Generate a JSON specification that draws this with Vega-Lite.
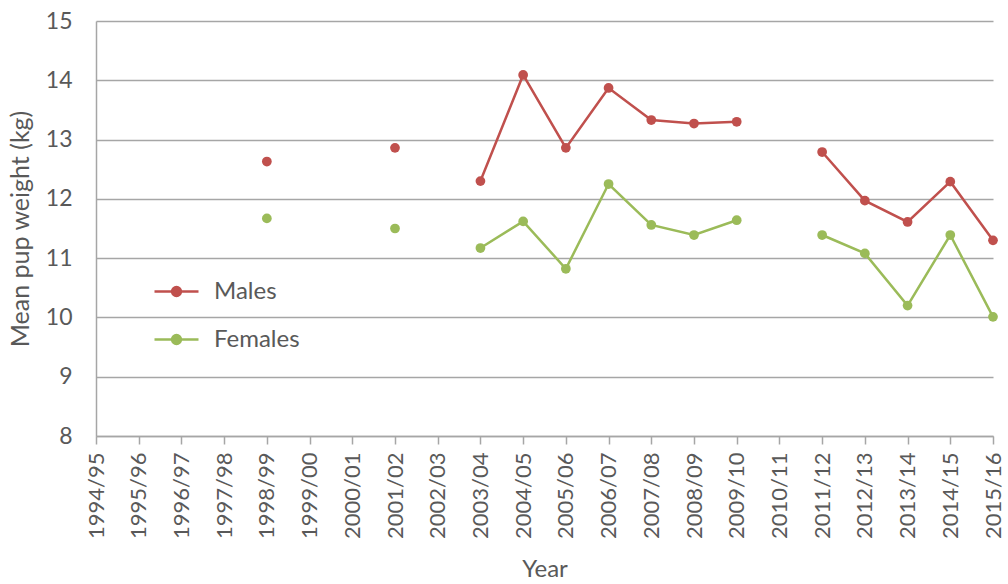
{
  "$schema": "https://vega.github.io/schema/vega-lite/v6.json",
  "autosize": "none",
  "width": 897,
  "height": 415,
  "padding": {"left": 96, "top": 21, "right": 15, "bottom": 148},
  "background": "white",
  "config": {
    "view": {"stroke": null},
    "font": "Lato",
    "axis": {"labelColor": "#595959", "titleColor": "#595959", "labelFont": "Lato", "titleFont": "Lato"}
  },
  "data": {
    "values": [
      {"year": "1994/95", "sex": "Males", "weight": null},
      {"year": "1995/96", "sex": "Males", "weight": null},
      {"year": "1996/97", "sex": "Males", "weight": null},
      {"year": "1997/98", "sex": "Males", "weight": null},
      {"year": "1998/99", "sex": "Males", "weight": 12.63},
      {"year": "1999/00", "sex": "Males", "weight": null},
      {"year": "2000/01", "sex": "Males", "weight": null},
      {"year": "2001/02", "sex": "Males", "weight": 12.86},
      {"year": "2002/03", "sex": "Males", "weight": null},
      {"year": "2003/04", "sex": "Males", "weight": 12.3},
      {"year": "2004/05", "sex": "Males", "weight": 14.09},
      {"year": "2005/06", "sex": "Males", "weight": 12.86},
      {"year": "2006/07", "sex": "Males", "weight": 13.87},
      {"year": "2007/08", "sex": "Males", "weight": 13.33},
      {"year": "2008/09", "sex": "Males", "weight": 13.27},
      {"year": "2009/10", "sex": "Males", "weight": 13.3},
      {"year": "2010/11", "sex": "Males", "weight": null},
      {"year": "2011/12", "sex": "Males", "weight": 12.79},
      {"year": "2012/13", "sex": "Males", "weight": 11.97},
      {"year": "2013/14", "sex": "Males", "weight": 11.61},
      {"year": "2014/15", "sex": "Males", "weight": 12.29},
      {"year": "2015/16", "sex": "Males", "weight": 11.3},
      {"year": "1994/95", "sex": "Females", "weight": null},
      {"year": "1995/96", "sex": "Females", "weight": null},
      {"year": "1996/97", "sex": "Females", "weight": null},
      {"year": "1997/98", "sex": "Females", "weight": null},
      {"year": "1998/99", "sex": "Females", "weight": 11.67},
      {"year": "1999/00", "sex": "Females", "weight": null},
      {"year": "2000/01", "sex": "Females", "weight": null},
      {"year": "2001/02", "sex": "Females", "weight": 11.5},
      {"year": "2002/03", "sex": "Females", "weight": null},
      {"year": "2003/04", "sex": "Females", "weight": 11.17},
      {"year": "2004/05", "sex": "Females", "weight": 11.62},
      {"year": "2005/06", "sex": "Females", "weight": 10.82},
      {"year": "2006/07", "sex": "Females", "weight": 12.25},
      {"year": "2007/08", "sex": "Females", "weight": 11.56},
      {"year": "2008/09", "sex": "Females", "weight": 11.39},
      {"year": "2009/10", "sex": "Females", "weight": 11.64},
      {"year": "2010/11", "sex": "Females", "weight": null},
      {"year": "2011/12", "sex": "Females", "weight": 11.39},
      {"year": "2012/13", "sex": "Females", "weight": 11.08},
      {"year": "2013/14", "sex": "Females", "weight": 10.2},
      {"year": "2014/15", "sex": "Females", "weight": 11.39},
      {"year": "2015/16", "sex": "Females", "weight": 10.01}
    ]
  },
  "encoding": {
    "x": {
      "field": "year", "type": "ordinal", "title": "Year",
      "scale": {"type": "point", "padding": 0, "domain": ["1994/95","1995/96","1996/97","1997/98","1998/99","1999/00","2000/01","2001/02","2002/03","2003/04","2004/05","2005/06","2006/07","2007/08","2008/09","2009/10","2010/11","2011/12","2012/13","2013/14","2014/15","2015/16"]},
      "axis": {
        "labelAngle": -90, "labelFontSize": 22, "labelPadding": 8,
        "tickSize": 8, "tickColor": "#A6A6A6", "domainColor": "#A6A6A6", "domainWidth": 1.5, "tickWidth": 1.5,
        "grid": false, "titleFontSize": 24, "titleFontWeight": "normal", "titlePadding": 19
      }
    },
    "y": {
      "field": "weight", "type": "quantitative", "title": "Mean pup weight (kg)",
      "scale": {"domain": [8, 15], "nice": false, "zero": false},
      "axis": {
        "values": [8, 8.5, 9, 9.5, 10, 10.5, 11, 11.5, 12, 12.5, 13, 13.5, 14, 14.5, 15],
        "format": "d",
        "labelExpr": "datum.value % 1 === 0 ? datum.label : ''",
        "labelFontSize": 23, "labelPadding": 31, "tickSize": -7,
        "tickColor": "#A6A6A6", "tickWidth": 1.5,
        "tickOpacity": {"condition": {"test": "datum.value % 1 === 0", "value": 0}, "value": 1},
        "grid": true, "gridColor": "#A6A6A6", "gridWidth": 1.5,
        "gridOpacity": {"condition": {"test": "datum.value % 1 !== 0", "value": 0}, "value": 1},
        "domainColor": "#A6A6A6", "domainWidth": 1.5,
        "titleFontSize": 25, "titleFontWeight": "normal", "titlePadding": 12
      }
    },
    "color": {
      "field": "sex", "type": "nominal",
      "scale": {"domain": ["Males", "Females"], "range": ["#C0504D", "#9BBB59"]},
      "legend": {
        "title": null, "orient": "none", "legendX": 57, "legendY": 247,
        "symbolType": "M-1,0H1M-0.2,0A0.2,0.2 0 1,0 0.2,0A0.2,0.2 0 1,0 -0.2,0Z",
        "symbolSize": 1936, "symbolStrokeWidth": 2.5,
        "labelFontSize": 24, "labelColor": "#595959", "labelOffset": 14, "rowPadding": 12,
        "encode": {"symbols": {"update": {"fill": {"scale": "color", "field": "value"}, "fillOpacity": {"value": 1}}}}
      }
    }
  },
  "layer": [
    {"mark": {"type": "line", "strokeWidth": 2.5, "invalid": "break-paths-filter-domains"}},
    {"mark": {"type": "point", "filled": true, "size": 95, "opacity": 1}}
  ]
}
